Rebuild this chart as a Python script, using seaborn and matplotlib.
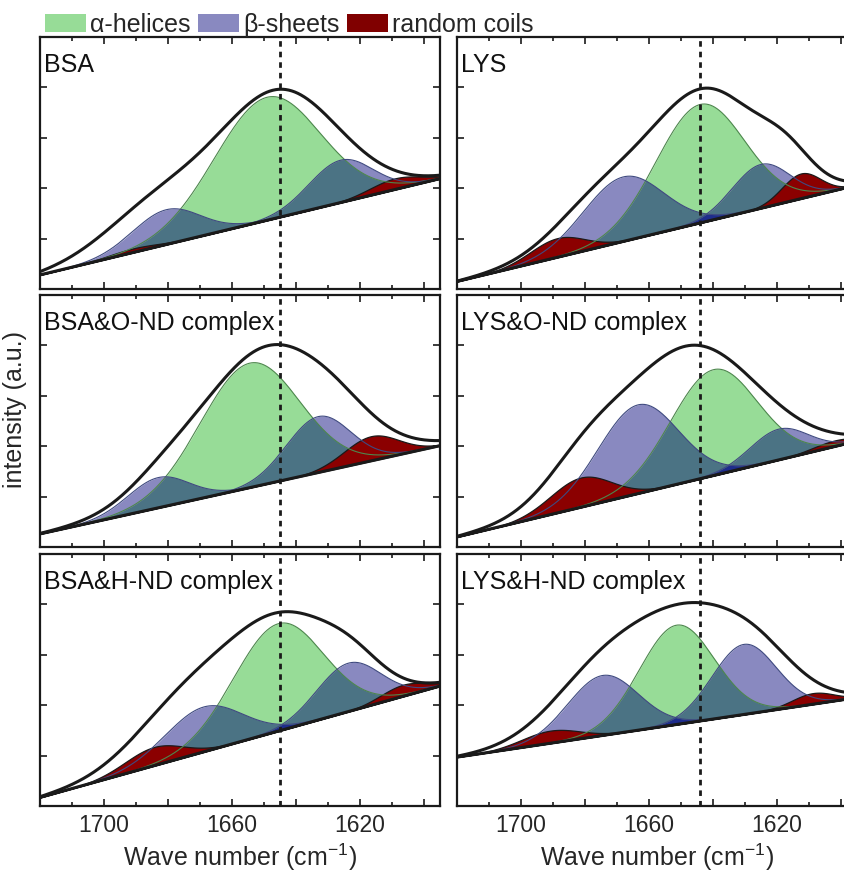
import numpy as np
import pandas as pd
import matplotlib
matplotlib.use("Agg")
import matplotlib.pyplot as plt
from matplotlib.patches import Patch
from matplotlib.ticker import FixedLocator
import seaborn as sns

panel_names = ["BSA", "LYS", "BSA&O-ND complex", "LYS&O-ND complex",
               "BSA&H-ND complex", "LYS&H-ND complex"]

# linear baseline, intensity at 1720 and at 1595 cm-1
base_start = [0.28, 0.15, 0.26, 0.20, 0.17, 0.97]
base_end = [2.19, 2.06, 2.01, 2.10, 2.38, 2.15]

# fitted bands: (centre cm-1, height above baseline, width)
helix_bands = [(1649.0, 2.44, 16.5), (1644.0, 2.35, 13.8), (1654.4, 2.47, 15.5),
               (1639.8, 2.10, 13.5), (1645.5, 2.13, 14.0), (1651.3, 1.97, 11.7)]
sheet_bands = [[(1680.5, 0.69, 10.5), (1626.0, 0.84, 10.0)],
               [(1668.0, 1.28, 12.5), (1625.0, 0.87, 9.0)],
               [(1683.0, 0.60, 9.5), (1633.0, 1.11, 10.0)],
               [(1663.4, 1.76, 12.5), (1619.4, 0.61, 9.0)],
               [(1668.8, 0.89, 12.0), (1623.6, 0.96, 10.0)],
               [(1674.4, 1.19, 11.0), (1630.3, 1.39, 10.0)]]
coil_bands = [[(1691.0, 0.08, 8.0), (1609.0, 0.22, 8.0)],
              [(1688.6, 0.38, 8.5), (1612.5, 0.50, 6.0)],
              [(1616.5, 0.49, 8.5)],
              [(1681.3, 0.59, 9.5), (1602.0, 0.12, 7.0)],
              [(1684.4, 0.37, 9.0), (1606.5, 0.23, 7.0)],
              [(1690.8, 0.25, 9.0), (1608.8, 0.22, 6.5)]]
# measured amide I envelope
envelope_bands = [[(1646.0, 2.50, 19.0), (1684.0, 0.80, 16.0)],
                  [(1643.0, 2.60, 17.5), (1676.0, 0.85, 14.0), (1617.0, 0.50, 8.0)],
                  [(1649.0, 2.72, 21.0), (1682.0, 0.27, 11.0), (1626.0, 0.20, 10.0)],
                  [(1648.0, 2.68, 21.5), (1680.0, 0.62, 12.0)],
                  [(1645.0, 2.25, 19.0), (1677.0, 0.85, 15.0), (1622.0, 0.33, 9.0)],
                  [(1647.0, 2.20, 20.0), (1677.0, 0.90, 15.0), (1625.0, 0.40, 11.0)]]
marker_pos = [1645, 1644]
legend_labels = ["α-helices", "β-sheets", "random coils"]

GREEN = "#97dc97"
LAV = "#8989c0"
TEAL = "#4b7384"
NAVY = "#1e2c8c"
RED = "#8b0000"

sns.set_theme(style="ticks")
plt.rcParams['font.family'] = ['Liberation Sans', 'DejaVu Sans']
plt.rcParams['mathtext.fontset'] = 'custom'
plt.rcParams['mathtext.rm'] = 'Liberation Sans'
plt.rcParams['mathtext.it'] = 'Liberation Sans:italic'


def band(x, c, h, w):
    return h * np.exp(-(x - c) ** 2 / (2 * w ** 2))


wn = np.linspace(1595, 1720, 800)
W, H = 845, 875
col_x = [40, 457]
row_top = [37, 295, 554]

fig = plt.figure(figsize=(W / 100, H / 100), dpi=100)

for i, name in enumerate(panel_names):
    r, c = divmod(i, 2)
    ax = fig.add_axes([col_x[c] / W, 1 - (row_top[r] + 252) / H, 400 / W, 252 / H])

    base = base_start[i] + (base_end[i] - base_start[i]) * (1720 - wn) / 125
    g = band(wn, *helix_bands[i])
    bs = [band(wn, *b) for b in sheet_bands[i]]
    b_top = np.max(bs, axis=0)
    env = np.sum([band(wn, *b) for b in envelope_bands[i]], axis=0)

    ax.fill_between(wn, base, base + g, color=GREEN, lw=0)
    ax.plot(wn, base + g, color="#4d874d", lw=0.8)
    for b in bs:
        ax.fill_between(wn, base, base + b, color=LAV, lw=0)
    ax.fill_between(wn, base, base + np.minimum(g, b_top), color=TEAL, lw=0)
    ax.fill_between(wn, base, base + np.min(bs, axis=0), color=NAVY, lw=0)
    for b in bs:
        ax.plot(wn, base + b, color="#3f4a80", lw=0.8)
    for cb in coil_bands[i]:
        ax.fill_between(wn, base, base + band(wn, *cb), color=RED,
                        edgecolor="k", lw=0.9)

    df = pd.DataFrame({"wn": wn, "base": base, "total": base + env})
    sns.lineplot(data=df, x="wn", y="base", ax=ax, color="k", lw=2.2, sort=False)
    sns.lineplot(data=df, x="wn", y="total", ax=ax, color="k", lw=2.2, sort=False)
    ax.axvline(marker_pos[c], color="k", lw=2, ls=(0, (2.0, 1.8)))

    ax.set_xlim(1720, 1595)
    ax.set_ylim(0, 5)
    ax.xaxis.set_major_locator(FixedLocator([1700, 1680, 1660, 1640, 1620, 1600]))
    ax.xaxis.set_minor_locator(FixedLocator([1710, 1690, 1670, 1650, 1630, 1610]))
    ax.yaxis.set_major_locator(FixedLocator([1, 2, 3, 4]))
    ax.tick_params(which="both", direction="in", top=True, right=True,
                   width=1.2, color="k")
    ax.tick_params(which="major", length=5)
    ax.tick_params(which="minor", length=3)
    ax.set_yticklabels([])
    ax.set_ylabel("")
    if r == 2:
        ax.set_xticklabels(["1700", "", "1660", "", "1620", ""], fontsize=16.5)
        ax.tick_params(axis="x", pad=6)
        ax.set_xlabel("Wave number (cm$^{-1}$)", fontsize=18, labelpad=3)
    else:
        ax.set_xticklabels([])
        ax.set_xlabel("")
    for s in ax.spines.values():
        s.set_linewidth(1.6)
        s.set_color("k")
    ax.text(0.01, 0.89, name, transform=ax.transAxes, fontsize=18,
            ha="left", va="center", color="#111111")

fig.text(15 / W, 1 - 409 / H, "intensity (a.u.)", rotation=90, fontsize=18,
         ha="center", va="center")

handles = [Patch(facecolor=GREEN, edgecolor="none"),
           Patch(facecolor=LAV, edgecolor="none"),
           Patch(facecolor="#800000", edgecolor="none")]
fig.legend(handles, legend_labels, loc="center left", ncol=3, frameon=False,
           bbox_to_anchor=(45 / W, 1 - 25 / H), fontsize=18, handlelength=1.65,
           handleheight=0.75, handletextpad=0.15, columnspacing=0.3,
           borderpad=0, borderaxespad=0)

fig.savefig("out.png", dpi=100)
